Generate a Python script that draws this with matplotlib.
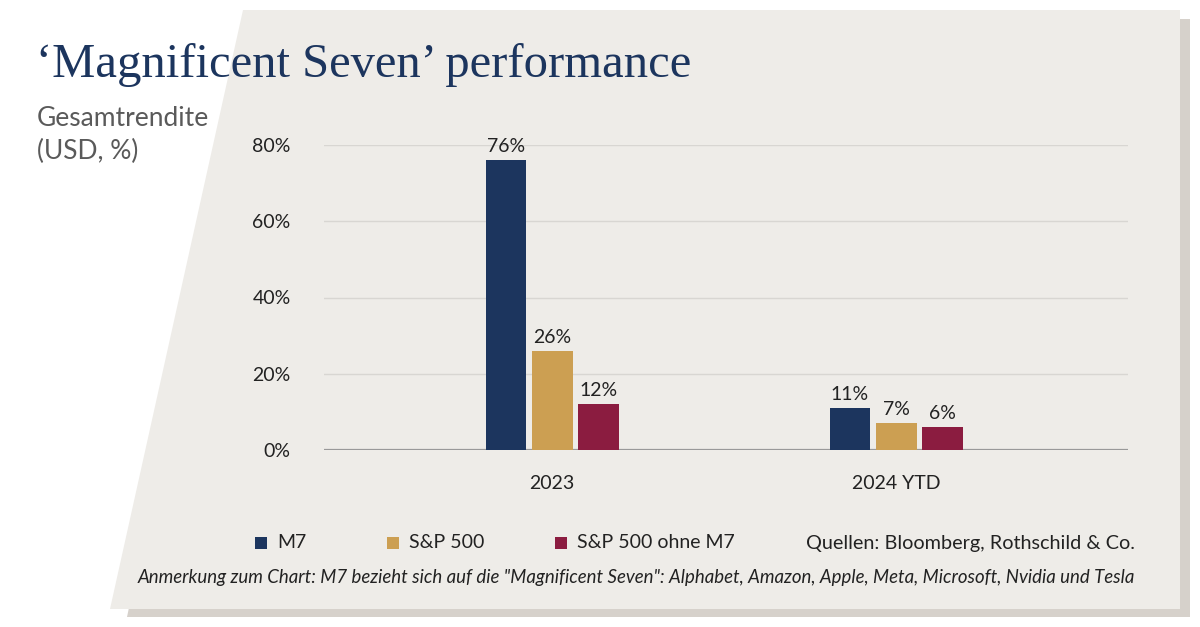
import numpy as np
import matplotlib.pyplot as plt
from matplotlib.patches import Polygon, Rectangle

# data
categories = ['2023', '2024 YTD']
series_names = ['M7', 'S&P 500', 'S&P 500 ohne M7']
m7 = [76, 11]
sp500 = [26, 7]
sp500_ex = [12, 6]
series = [m7, sp500, sp500_ex]
yticks = [0, 20, 40, 60, 80]

colors = ['#1c355e', '#cc9f52', '#8b1c40']
W, H = 1200, 627


def fx(x):
    return x / W


def fy(y):
    return 1 - y / H


fig = plt.figure(figsize=(12, 6.27), dpi=100)
fig.patch.set_facecolor('white')

# shadow and grey panel (parallelogram)
shadow = [(253, 19), (1190, 19), (1190, 617), (127, 617)]
panel = [(243, 10), (1180, 10), (1180, 609), (110, 609)]
fig.patches.append(Polygon([(fx(a), fy(b)) for a, b in shadow], closed=True,
                           transform=fig.transFigure, facecolor='#d6d1cb',
                           edgecolor='none', zorder=-2))
fig.patches.append(Polygon([(fx(a), fy(b)) for a, b in panel], closed=True,
                           transform=fig.transFigure, facecolor='#eeece8',
                           edgecolor='none', zorder=-1))

ax = fig.add_axes([fx(324), fy(450), fx(1128 - 324), (450 - 145) / H])
ax.set_facecolor('none')
ax.set_zorder(2)

x = np.arange(len(categories))
bw = 0.119
step = 0.134
for k, vals in enumerate(series):
    pos = x + (k - 1) * step
    ax.bar(pos, vals, width=bw, color=colors[k], zorder=3)
    for p, v in zip(pos, vals):
        ax.text(p, v + 1.3, f'{v}%', ha='center', va='bottom', fontsize=14,
                family='Lato', color='#222222', zorder=4)

ax.set_xlim(-0.663, 1.674)
ax.set_ylim(0, 80)
ax.set_yticks(yticks)
ax.set_yticklabels([f'{t}%' for t in yticks], family='Lato',
                   fontsize=14, color='#222222')
ax.set_xticks(x)
ax.set_xticklabels(categories, family='Lato', fontsize=14, color='#222222')
ax.tick_params(axis='both', length=0)
ax.tick_params(axis='y', pad=24)
ax.tick_params(axis='x', pad=18)
for s in ax.spines.values():
    s.set_visible(False)
ax.grid(axis='y', color='#d8d6d2', linewidth=1, zorder=0)
ax.axhline(0, color='#999999', linewidth=1.6, zorder=2)
ax.set_axisbelow(True)

# title and subtitle
fig.text(fx(36), fy(65), '\u2018Magnificent Seven\u2019 performance',
         family='Liberation Serif', fontsize=35, color='#1c355e', va='center')
fig.text(fx(37), fy(135), 'Gesamtrendite\n(USD, %)', family='Lato',
         fontsize=19, color='#5a5a5a', va='center', linespacing=1.35)

# legend
leg_x = [255, 387, 555]
for lx, name, c in zip(leg_x, series_names, colors):
    fig.patches.append(Rectangle((fx(lx), fy(549)), fx(12), 12 / H,
                                 transform=fig.transFigure, facecolor=c,
                                 edgecolor='none'))
    fig.text(fx(lx + 22), fy(543), name, family='Lato', fontsize=14,
             color='#222222', va='center')
fig.text(fx(1135), fy(543), 'Quellen: Bloomberg, Rothschild & Co.',
         family='Lato', fontsize=14.3, color='#222222', va='center', ha='right')
fig.text(fx(1135), fy(577),
         'Anmerkung zum Chart: M7 bezieht sich auf die "Magnificent Seven": '
         'Alphabet, Amazon, Apple, Meta, Microsoft, Nvidia und Tesla',
         family='Lato', style='italic', fontsize=13.4, color='#222222',
         va='center', ha='right')

fig.savefig('out.png', dpi=100)
